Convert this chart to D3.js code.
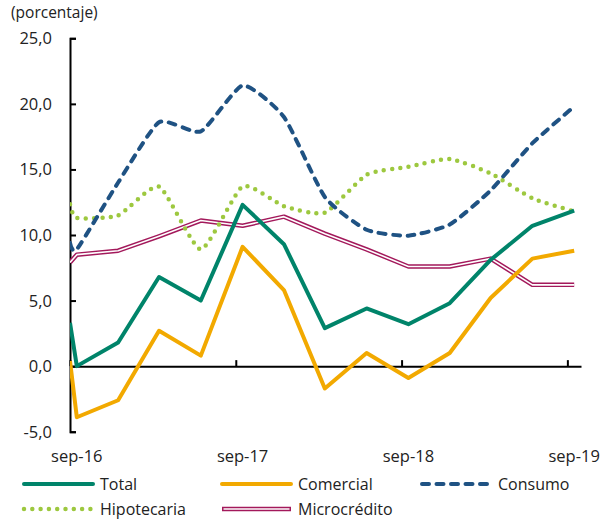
<!DOCTYPE html>
<html>
<head>
<meta charset="utf-8">
<script src="https://cdn.jsdelivr.net/npm/d3@7"></script>
<style>
  body { margin: 0; background: #fff; }
  svg { display: block; font-family: "Open Sans", sans-serif; }
</style>
</head>
<body>
<div id="chart"></div>
<script>
// periods (quarterly, first point sits on the axis start)
var periods = ["2016-09-01", "2016-09-16", "2016-12-16", "2017-03-16", "2017-06-16", "2017-09-16",
  "2017-12-16", "2018-03-16", "2018-06-16", "2018-09-16", "2018-12-16", "2019-03-16",
  "2019-06-16", "2019-09-16"];

var total       = [3.3, 0.0, 1.8, 6.8, 5.0, 12.3, 9.3, 2.9, 4.4, 3.2, 4.8, 8.1, 10.7, 11.85];
var comercial   = [0.4, -3.9, -2.6, 2.7, 0.8, 9.1, 5.8, -1.7, 1.0, -0.9, 1.0, 5.2, 8.2, 8.8];
var consumo     = [9.4, 8.9, 14.0, 18.6, 17.9, 21.4, 19.0, 12.9, 10.4, 9.95, 10.8, 13.4, 17.0, 19.8];
var hipotecaria = [12.35, 11.3, 11.5, 13.7, 8.9, 13.7, 12.2, 11.7, 14.6, 15.2, 15.8, 14.7, 12.8, 11.8];
var microcredito = [7.9, 8.5, 8.8, 9.9, 11.1, 10.7, 11.4, 10.1, 8.9, 7.6, 7.6, 8.2, 6.2, 6.2];

var yTicks = [-5, 0, 5, 10, 15, 20, 25];
var xTickDates = ["2016-09-01", "2017-09-01", "2018-09-01", "2019-09-01"];
var xLabels = ["sep-16", "sep-17", "sep-18", "sep-19"];

var width = 603, height = 521;
var parse = d3.timeParse("%Y-%m-%d");
var dates = periods.map(parse);

var x = d3.scaleTime()
    .domain([parse("2016-09-01"), parse("2019-10-01")])
    .range([70, 581]);
var y = d3.scaleLinear()
    .domain([-5, 25])
    .range([431.7, 38.3]);

var fmt = function(d) { return d3.format(".1f")(d).replace(".", ",").replace("\u2212", "-"); };

var svg = d3.select("#chart").append("svg")
    .attr("width", width)
    .attr("height", height);

svg.append("text")
    .attr("x", 11).attr("y", 18)
    .attr("font-size", 15.5)
    .attr("fill", "#222")
    .text("(porcentaje)");

// y axis
var yAxis = svg.append("g")
    .attr("transform", "translate(70,0)")
    .call(d3.axisRight(y).tickValues(yTicks).tickSize(6).tickFormat(""));
yAxis.select(".domain").attr("stroke", "#000").attr("stroke-width", 2);
yAxis.selectAll(".tick line").attr("stroke", "#000").attr("stroke-width", 2);

svg.append("g").selectAll("text")
    .data(yTicks)
  .enter().append("text")
    .attr("x", 52)
    .attr("y", function(d) { return y(d) + 6; })
    .attr("text-anchor", "end")
    .attr("font-size", 16.5)
    .attr("fill", "#222")
    .text(fmt);

// x axis at zero
var xAxis = svg.append("g")
    .attr("transform", "translate(0," + y(0) + ")")
    .call(d3.axisTop(x).tickValues(xTickDates.map(parse)).tickSize(6).tickSizeOuter(0).tickFormat(""));
xAxis.select(".domain").attr("stroke", "#000").attr("stroke-width", 2);
xAxis.selectAll(".tick line").attr("stroke", "#000").attr("stroke-width", 2);

// x labels sit under the mid-month points
svg.append("g").selectAll("text")
    .data(xLabels)
  .enter().append("text")
    .attr("x", function(d, i) { return x(d3.timeDay.offset(parse(xTickDates[i]), 15)); })
    .attr("y", 462)
    .attr("text-anchor", "middle")
    .attr("font-size", 16.5)
    .attr("fill", "#222")
    .text(function(d) { return d; });

svg.append("clipPath").attr("id", "plot")
  .append("rect").attr("x", 70).attr("y", 0).attr("width", 520).attr("height", 440);

var series = [
  { name: "Microcrédito", values: microcredito, color: "#A3195B", width: 4.5, kind: "double" },
  { name: "Hipotecaria", values: hipotecaria, color: "#9DC83F", width: 4.5, dash: "0,8.3", smooth: true },
  { name: "Consumo", values: consumo, color: "#1F5283", width: 4, dash: "7,7.5", smooth: true },
  { name: "Comercial", values: comercial, color: "#F2A900", width: 4 },
  { name: "Total", values: total, color: "#00846A", width: 4 }
];

var plot = svg.append("g").attr("clip-path", "url(#plot)");

series.forEach(function(s) {
  var line = d3.line()
      .x(function(d, i) { return x(dates[i]); })
      .y(function(d) { return y(d); })
      .curve(s.smooth ? d3.curveCardinal.tension(0.45) : d3.curveLinear);
  var p = plot.append("path")
      .datum(s.values)
      .attr("fill", "none")
      .attr("stroke", s.color)
      .attr("stroke-width", s.width)
      .attr("stroke-linejoin", "round")
      .attr("d", line);
  if (s.dash) p.attr("stroke-dasharray", s.dash).attr("stroke-linecap", "round");
  if (s.kind === "double") {
    plot.append("path")
        .datum(s.values)
        .attr("fill", "none")
        .attr("stroke", "#fff")
        .attr("stroke-width", 1.6)
        .attr("stroke-linejoin", "round")
        .attr("d", line);
  }
});

// legend
var legendItems = [
  { s: series[4], x: 24, y: 484 },
  { s: series[3], x: 222, y: 484 },
  { s: series[2], x: 422, y: 484 },
  { s: series[1], x: 24, y: 509 },
  { s: series[0], x: 222, y: 509 }
];

var legend = svg.append("g");
legendItems.forEach(function(it) {
  var s = it.s;
  var l = legend.append("line")
      .attr("x1", it.x).attr("x2", it.x + 69)
      .attr("y1", it.y).attr("y2", it.y)
      .attr("stroke", s.color)
      .attr("stroke-width", s.width);
  if (s.dash) l.attr("stroke-dasharray", s.dash).attr("stroke-linecap", "round");
  else l.attr("stroke-linecap", "round");
  if (s.kind === "double") {
    l.attr("stroke-linecap", "butt");
    legend.append("line")
        .attr("x1", it.x + 1.5).attr("x2", it.x + 67.5)
        .attr("y1", it.y).attr("y2", it.y)
        .attr("stroke", "#fff").attr("stroke-width", 1.6);
  }
  legend.append("text")
      .attr("x", it.x + 76)
      .attr("y", it.y + 6)
      .attr("font-size", 16)
      .attr("fill", "#222")
      .text(s.name);
});
</script>
</body>
</html>
